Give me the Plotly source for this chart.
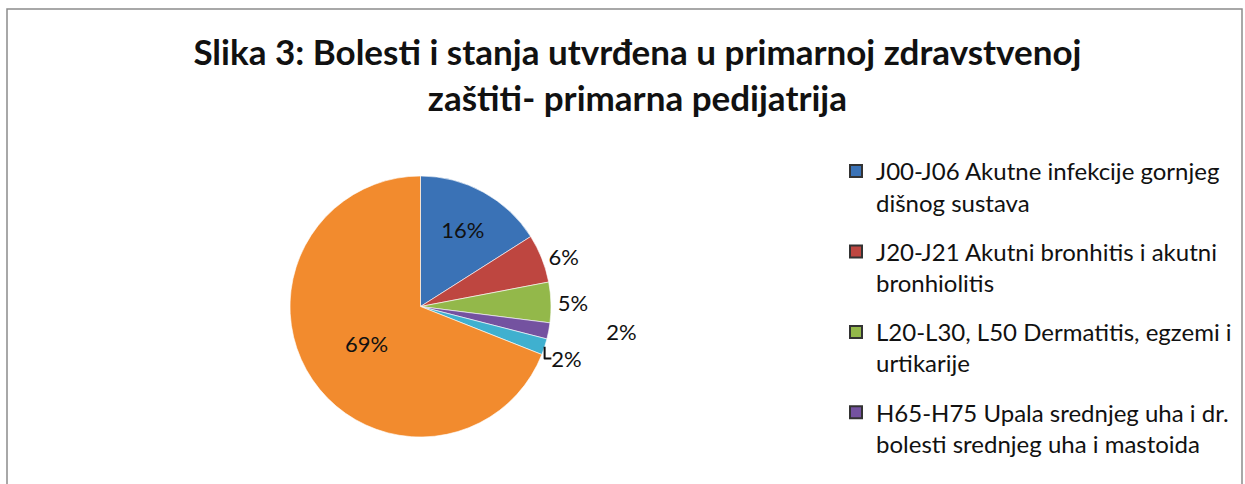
import plotly.graph_objects as go

W, H = 1245, 484

labels = [
    "J00-J06 Akutne infekcije gornjeg<br>dišnog sustava",
    "J20-J21 Akutni bronhitis i akutni<br>bronhiolitis",
    "L20-L30, L50 Dermatitis, egzemi i<br>urtikarije",
    "H65-H75 Upala srednjeg uha i dr.<br>bolesti srednjeg uha i mastoida",
    "Ostalo (5)",
    "Ostalo (6)",
]
values = [16, 6, 5, 2, 2, 69]
colors = ["#3a72b6", "#be4640", "#93b84a", "#7452a0", "#3fb0cf", "#f28b2e"]
text_pos = ["inside", "outside", "outside", "outside", "outside", "inside"]

font_family = "Lato, 'Open Sans', sans-serif"

# the purple label sits further out in the original
pad = "\u00a0" * 9
templates = ["%{percent:.0%}"] * len(values)
templates[3] = pad + "%{percent:.0%}"

fig = go.Figure()

fig.add_trace(go.Pie(
    labels=labels,
    values=values,
    sort=False,
    direction="clockwise",
    rotation=0,
    marker=dict(colors=colors, line=dict(color="rgba(255,255,255,0.6)", width=1)),
    texttemplate=templates,
    textposition=text_pos,
    insidetextorientation="horizontal",
    textfont=dict(family=font_family, size=22, color="#111111"),
    domain=dict(x=[288 / W, 553 / W], y=[1 - 437 / H, 1 - 176 / H]),
    showlegend=False,
    hoverinfo="label+percent",
))

# legend only shows the first four series (rest is cut off in the original)
for i, (name, col) in enumerate(zip(labels[:4], colors[:4])):
    fig.add_trace(go.Scatter(
        x=[None], y=[None], mode="markers", name=name, legendgroup=f"g{i}",
        marker=dict(symbol="square", size=14, color=col,
                    line=dict(color="#333333", width=0.5)),
    ))

fig.update_layout(
    width=W,
    height=H,
    margin=dict(l=0, r=0, t=0, b=0),
    paper_bgcolor="white",
    plot_bgcolor="white",
    font=dict(family=font_family, color="#111111"),
    title=dict(
        text="<b>Slika 3: Bolesti i stanja utvrđena u primarnoj zdravstvenoj<br>zaštiti- primarna pedijatrija</b>",
        x=0.512, xanchor="center",
        y=1 - 65 / H, yanchor="top",
        font=dict(family=font_family, size=35, color="#111111"),
    ),
    legend=dict(
        x=836 / W, xanchor="left",
        y=1 - 149 / H, yanchor="top",
        font=dict(family=font_family, size=24, color="#111111"),
        valign="top",
        itemsizing="constant",
        tracegroupgap=15,
        bgcolor="rgba(0,0,0,0)",
    ),
    xaxis=dict(visible=False),
    yaxis=dict(visible=False),
    shapes=[dict(
        type="rect", xref="paper", yref="paper",
        x0=7 / W, x1=1242 / W, y0=-0.2, y1=1 - 9 / H,
        line=dict(color="#8c8c8c", width=1.5),
    )],
)

fig.write_html("out.html", config={"displayModeBar": False},
               post_script="document.body.style.margin='0';")
